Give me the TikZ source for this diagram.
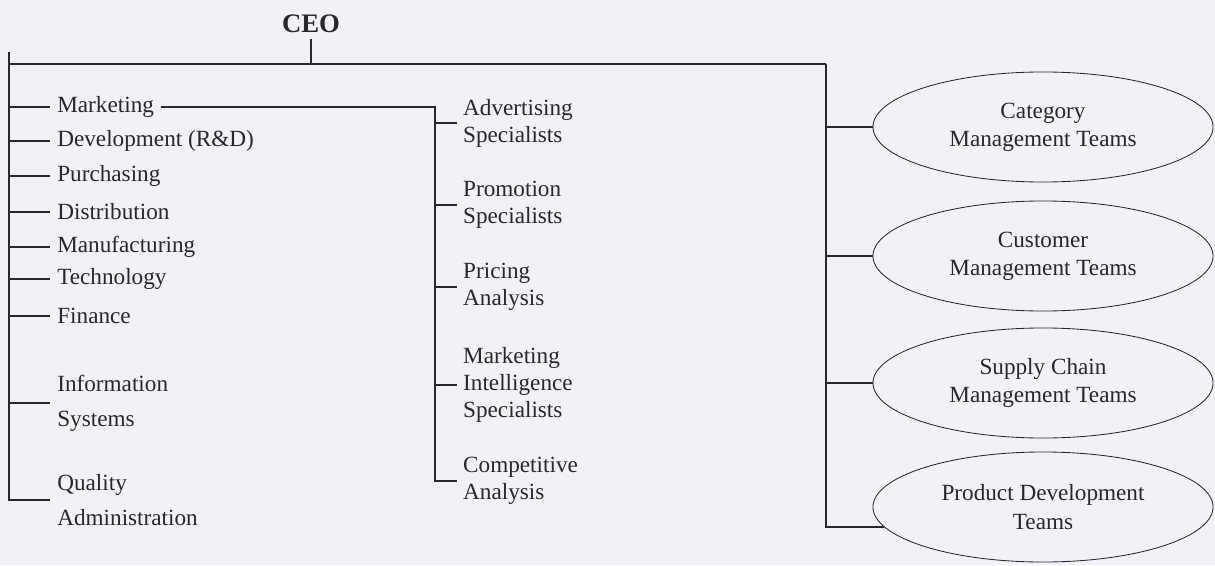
\documentclass[tikz,border=0pt]{standalone}
\usepackage{fontspec}
\setmainfont{Liberation Serif}
\usetikzlibrary{positioning,shapes.geometric}
\definecolor{paper}{RGB}{241,242,248}
\definecolor{ink}{RGB}{40,40,44}
\tikzset{
  boss/.style={inner sep=0pt, text=ink, font=\fontsize{19}{23}\selectfont\bfseries},
  dept/.style={anchor=west, inner xsep=5pt, inner ysep=0pt, align=left, text=ink,
    font=\fontsize{16.5}{25}\selectfont},
  spec/.style={anchor=west, inner xsep=4.2pt, inner ysep=0pt, align=left, text=ink,
    font=\fontsize{16.5}{19.2}\selectfont},
  team/.style={ellipse, draw=ink, line width=0.6pt, minimum width=8.5cm, minimum height=2.75cm,
    inner sep=0pt, align=center, text=ink, font=\fontsize{16.5}{20}\selectfont},
  link/.style={draw=ink, line width=1.3pt}
}

\begin{document}
\begin{tikzpicture}[x=0.025cm, y=-0.025cm]
      \fill[paper] (0,0) rectangle (1215,565);
      \useasboundingbox (0,0) rectangle (1215,565);

      \node[boss] (ceo) at (311,24) {CEO};
      \coordinate (lefttop) at (9,52);
      \coordinate (rightend) at (826,64);
      \coordinate (midbar) at (435,107);

      % functional departments
      \node[dept] (mkt) at (50,107) {Marketing};
      \node[dept] (dev) at (50,141) {Development (R\&D)};
      \node[dept] (pur) at (50,176) {Purchasing};
      \node[dept] (dis) at (50,212) {Distribution};
      \node[dept] (man) at (50,247) {Manufacturing};
      \node[dept] (tec) at (50,279) {Technology};
      \node[dept] (fin) at (50,316) {Finance};
      \node[dept] (inf) at (50,403) {Information\\Systems};
      \node[dept] (qal) at (50,500) {Quality\\Administration};

      % marketing specialists
      \node[spec] (adv) at (457,123) {Advertising\\Specialists};
      \node[spec] (pro) at (457,205) {Promotion\\Specialists};
      \node[spec] (pri) at (457,287) {Pricing\\Analysis};
      \node[spec] (mis) at (457,385) {Marketing\\Intelligence\\Specialists};
      \node[spec] (cmp) at (457,481) {Competitive\\Analysis};

      % teams
      \node[team] (cat) at (1043,127) {Category\\Management Teams};
      \node[team] (cus) at (1043,256) {Customer\\Management Teams};
      \node[team] (sup) at (1043,383) {Supply Chain\\Management Teams};
      \node[team] (prd) at (1043,507) {Product Development\\Teams};

      \path[link] (ceo.south) ++(0,6) -- (ceo.south |- rightend)
            (lefttop |- rightend) -- (rightend)
            (lefttop) |- (qal.west);
      \foreach \n in {mkt,dev,pur,dis,man,tec,fin,inf}
        \path[link] (lefttop |- \n.west) -- (\n.west);

      \path[link] (mkt.east) -- (midbar) |- (cmp.west);
      \foreach \n in {adv,pro,pri,mis}
        \path[link] (midbar |- \n.west) -- (\n.west);

      \path[link] (rightend) |- (prd.187);
      \foreach \n in {cat,cus,sup}
        \path[link] (rightend |- \n.west) -- (\n.west);
\end{tikzpicture}
\end{document}
